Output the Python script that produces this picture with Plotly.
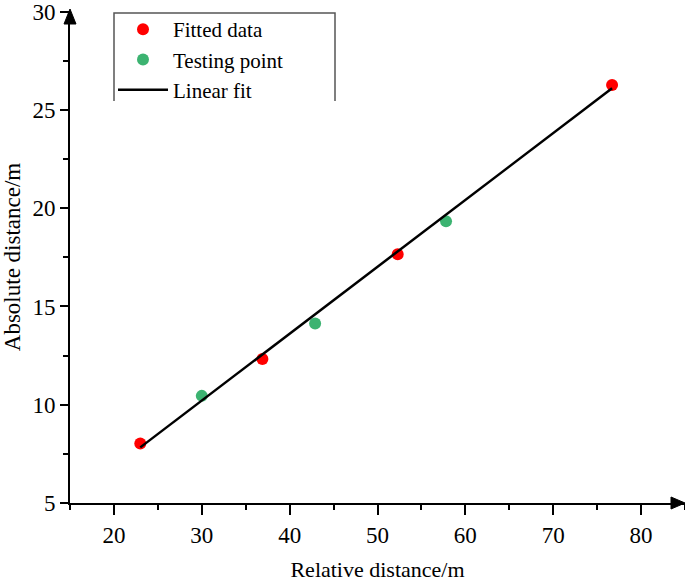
import plotly.graph_objects as go

# Data
fitted_x = [23.0, 36.9, 52.3, 76.7]
fitted_y = [8.03, 12.33, 17.65, 26.27]
testing_x = [30.0, 42.9, 57.8]
testing_y = [10.45, 14.13, 19.33]
fit_x = [23.0, 76.7]
fit_y = [7.83, 26.1]

x_range = [15, 85]
y_range = [5, 30.03]
x_ticks = [20, 30, 40, 50, 60, 70, 80]
y_ticks = [5, 10, 15, 20, 25, 30]

FONT = "Liberation Serif, Times New Roman, serif"

fig = go.Figure()
fig.add_trace(go.Scatter(x=fitted_x, y=fitted_y, mode="markers", name="Fitted data",
                         marker=dict(color="#ff0000", size=12)))
fig.add_trace(go.Scatter(x=testing_x, y=testing_y, mode="markers", name="Testing point",
                         marker=dict(color="#3cb371", size=12)))
fig.add_trace(go.Scatter(x=fit_x, y=fit_y, mode="lines", name="Linear fit",
                         line=dict(color="black", width=2.5)))

W, H = 685, 582
ml, mr, mt, mb = 70, 0, 11, 79

pw = W - ml - mr
ph = H - mt - mb
def px(xp):
    return (xp - ml) / pw
def py(yp):
    return (H - mb - yp) / ph

fig.update_layout(
    width=W, height=H,
    margin=dict(l=ml, r=mr, t=mt, b=mb, autoexpand=False),
    paper_bgcolor="white", plot_bgcolor="white",
    font=dict(family=FONT, color="black", size=22),
    showlegend=True,
    legend=dict(x=px(113), y=py(9), xanchor="left", yanchor="top",
                bgcolor="rgba(0,0,0,0)", borderwidth=0, font=dict(size=21, family=FONT),
                itemwidth=50, tracegroupgap=0),
    xaxis=dict(range=x_range, tickvals=x_ticks, showgrid=False, zeroline=False, automargin=False,
               showline=True, linecolor="black", linewidth=2, ticklabeloverflow="allow",
               ticks="outside", ticklen=10, tickwidth=2, tickcolor="black",
               minor=dict(dtick=5, tick0=15, ticks="outside", ticklen=5, tickwidth=2, tickcolor="black"),
               tickfont=dict(size=23, family=FONT),
               title=dict(text="Relative distance/m", font=dict(size=22, family=FONT), standoff=21)),
    yaxis=dict(range=y_range, tickvals=y_ticks, showgrid=False, zeroline=False, automargin=False,
               showline=True, linecolor="black", linewidth=2, ticklabeloverflow="allow",
               ticks="outside", ticklen=8, tickwidth=2, tickcolor="black",
               minor=dict(dtick=2.5, tick0=5, ticks="outside", ticklen=5, tickwidth=2, tickcolor="black"),
               tickfont=dict(size=23, family=FONT),
               title=dict(text="Absolute distance/m", font=dict(size=23, family=FONT), standoff=13)),
)

# Axis arrows (paper coordinates)
fig.add_shape(type="path", xref="paper", yref="paper",
              path=f"M {px(671)} {py(497)} L {px(685)} {py(503)} L {px(671)} {py(509)} Z",
              fillcolor="black", line=dict(color="black", width=1))
fig.add_shape(type="path", xref="paper", yref="paper",
              path=f"M {px(64)} {py(24)} L {px(70)} {py(9)} L {px(76)} {py(24)} Z",
              fillcolor="black", line=dict(color="black", width=1))

# Legend frame (open at the bottom)
fig.add_shape(type="path", xref="paper", yref="paper",
              path=f"M {px(114)} {py(101)} L {px(114)} {py(13)} L {px(335)} {py(13)} L {px(335)} {py(101)}",
              line=dict(color="#555555", width=1.5))

fig.write_html("out.html", config={"displayModeBar": False},
               post_script="document.body.style.margin='0';document.body.style.overflow='hidden';")
